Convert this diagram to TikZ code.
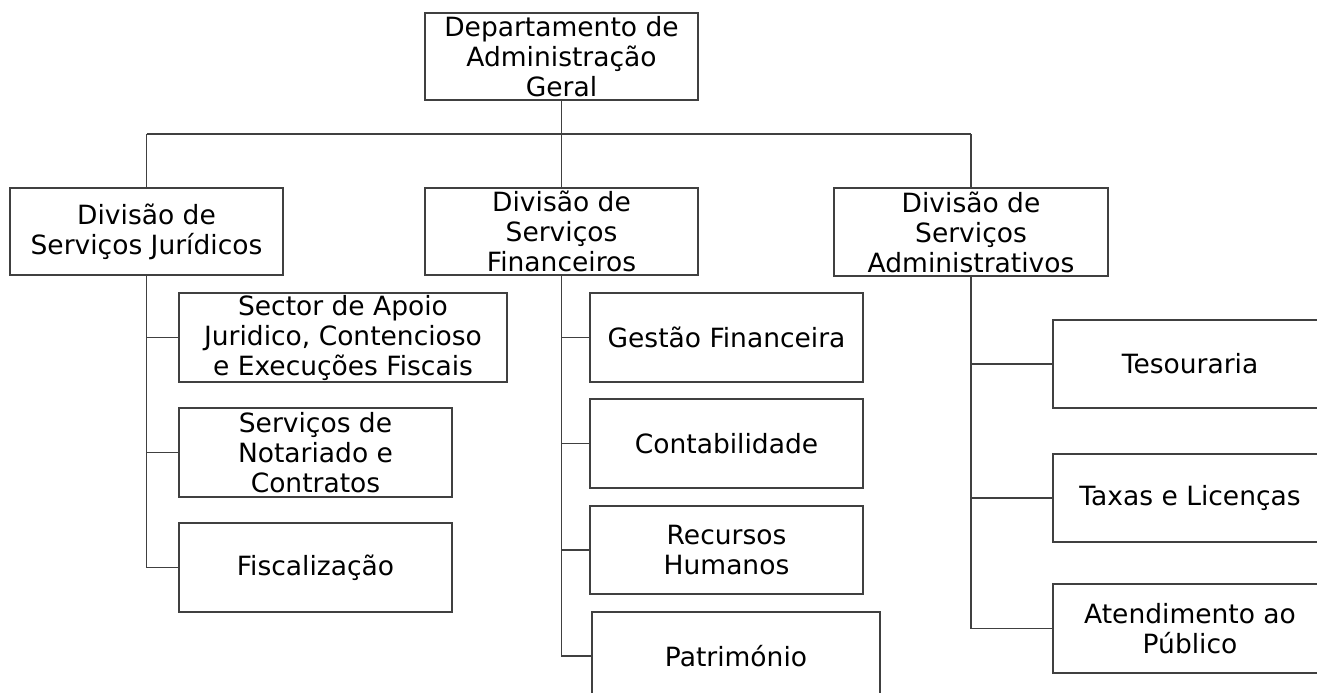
\documentclass[tikz,border=0pt]{standalone}
\usepackage{fontspec}
\setmainfont{DejaVu Sans}
\begin{document}
\begin{tikzpicture}[x=1pt,y=-1pt,
  box/.style={draw=black!75, line width=1.4pt, fill=white, inner sep=0pt, outer sep=0pt,
    align=center, font=\fontsize{26.5}{30}\selectfont},
  conn/.style={draw=black!75, line width=1.4pt}]
\useasboundingbox (0,0) rectangle (1317,693);
\clip (0,0) rectangle (1317,693);
% top
\node[box, minimum width=273pt, minimum height=87pt] (top) at (561.5,56.5) {Departamento de\\Administração\\Geral};
% divisions
\node[box, minimum width=273pt, minimum height=87pt] (jur) at (146.5,231.5) {Divisão de\\Serviços Jurídicos};
\node[box, minimum width=273pt, minimum height=87pt] (fin) at (561.5,231.5) {Divisão de\\Serviços\\Financeiros};
\node[box, minimum width=274pt, minimum height=88pt] (adm) at (971,232) {Divisão de\\Serviços\\Administrativos};
% juridicos children
\node[box, minimum width=328pt, minimum height=89pt] (sector) at (343,337.5) {Sector de Apoio\\Juridico, Contencioso\\e Execuções Fiscais};
\node[box, minimum width=273pt, minimum height=89pt] (notar) at (315.5,452.5) {Serviços de\\Notariado e\\Contratos};
\node[box, minimum width=273pt, minimum height=89pt] (fisc) at (315.5,567.5) {Fiscalização};
% financeiros children
\node[box, minimum width=273pt, minimum height=89pt] (gest) at (726.5,337.5) {Gestão Financeira};
\node[box, minimum width=273pt, minimum height=89pt] (cont) at (726.5,443.5) {Contabilidade};
\node[box, minimum width=273pt, minimum height=88pt] (rec) at (726.5,550) {Recursos\\Humanos};
\node[box, minimum width=288pt, minimum height=88pt] (patr) at (736,656) {Património};
% administrativos children
\node[box, minimum width=274pt, minimum height=88pt] (tes) at (1190,364) {Tesouraria};
\node[box, minimum width=274pt, minimum height=88pt] (tax) at (1190,498) {Taxas e Licenças};
\node[box, minimum width=274pt, minimum height=89pt] (ate) at (1190,628.5) {Atendimento ao\\Público};
% connectors
\coordinate (hl) at (146.5,134);
\coordinate (hr) at (971,134);
\draw[conn] (top.south) -- (top.south |- hl);
\draw[conn] (hl) -- (hr);
\draw[conn] (hl) -- (jur.north);
\draw[conn] (fin.north |- hl) -- (fin.north);
\draw[conn] (hr) -- (adm.north);
\draw[conn] (jur.south) |- (fisc.west);
\draw[conn] (jur.south |- sector.west) -- (sector.west);
\draw[conn] (jur.south |- notar.west) -- (notar.west);
\draw[conn] (fin.south) |- (patr.west);
\draw[conn] (fin.south |- gest.west) -- (gest.west);
\draw[conn] (fin.south |- cont.west) -- (cont.west);
\draw[conn] (fin.south |- rec.west) -- (rec.west);
\draw[conn] (adm.south) |- (ate.west);
\draw[conn] (adm.south |- tes.west) -- (tes.west);
\draw[conn] (adm.south |- tax.west) -- (tax.west);
\end{tikzpicture}
\end{document}
